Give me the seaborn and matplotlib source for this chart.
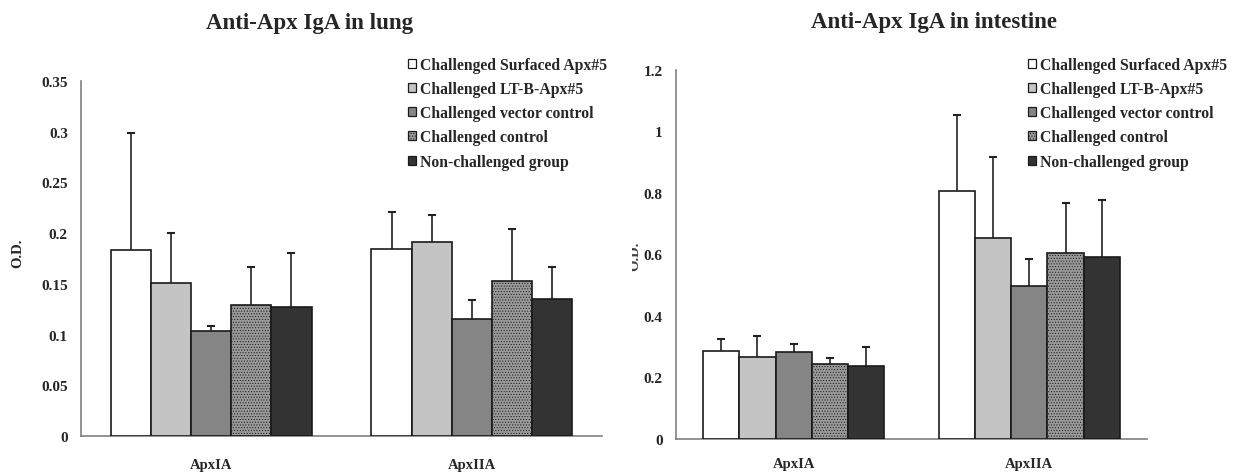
import matplotlib
matplotlib.use("Agg")
import matplotlib.pyplot as plt
from matplotlib.patches import Patch
from matplotlib.transforms import Bbox
import seaborn as sns
import pandas as pd

# ---- data ----
antigens = ["ApxIA", "ApxIIA"]
groups = ["Challenged Surfaced Apx#5", "Challenged LT-B-Apx#5",
          "Challenged vector control", "Challenged control",
          "Non-challenged group"]

lung_mean = {"ApxIA": [0.183, 0.151, 0.104, 0.129, 0.127],
             "ApxIIA": [0.184, 0.191, 0.115, 0.153, 0.135]}
lung_err = {"ApxIA": [0.116, 0.049, 0.004, 0.038, 0.053],
            "ApxIIA": [0.037, 0.027, 0.019, 0.051, 0.032]}

int_mean = {"ApxIA": [0.286, 0.268, 0.282, 0.245, 0.238],
            "ApxIIA": [0.805, 0.654, 0.499, 0.605, 0.591]}
int_err = {"ApxIA": [0.039, 0.066, 0.026, 0.018, 0.060],
           "ApxIIA": [0.248, 0.264, 0.085, 0.162, 0.185]}

lung_ticks = [0, 0.05, 0.1, 0.15, 0.2, 0.25, 0.3, 0.35]
lung_ticklabels = ["0", "0.05", "0.1", "0.15", "0.2", "0.25", "0.3", "0.35"]
int_ticks = [0, 0.2, 0.4, 0.6, 0.8, 1.0, 1.2]
int_ticklabels = ["0", "0.2", "0.4", "0.6", "0.8", "1", "1.2"]

# ---- styling ----
face = ["#ffffff", "#c4c4c4", "#858585", "#9a9a9a", "#333333"]
hatches = [None, None, None, "......", None]

sns.set_theme(style="white")
plt.rcParams["font.family"] = ["Liberation Serif", "DejaVu Serif"]
plt.rcParams["font.weight"] = "bold"
plt.rcParams["hatch.linewidth"] = 0.45
plt.rcParams["hatch.color"] = "#555555"


def long_table(means, errs):
    rows = []
    for a in antigens:
        for g, m, e in zip(groups, means[a], errs[a]):
            rows.append({"antigen": a, "group": g, "od": m, "err": e})
    return pd.DataFrame(rows)


def draw_panel(ax, means, errs, ylim, ticks, ticklabels, xpad):
    df = long_table(means, errs)
    sns.barplot(data=df, x="antigen", y="od", hue="group", order=antigens,
                hue_order=groups, palette=face, width=0.77, gap=0,
                errorbar=None, edgecolor="#1a1a1a", linewidth=1.2,
                legend=False, ax=ax, zorder=3)
    # colours/hatches per group and one-sided (upper) error bars
    bars = ax.patches
    n_a = len(antigens)
    for gi, g in enumerate(groups):
        for ai, a in enumerate(antigens):
            p = bars[gi * n_a + ai]
            p.set_facecolor(face[gi])
            if hatches[gi]:
                p.set_hatch(hatches[gi])
            xc = p.get_x() + p.get_width() / 2
            h = p.get_height()
            e = errs[a][gi]
            line, caps, cols = ax.errorbar(xc, h, yerr=[[0], [e]], fmt="none",
                                           ecolor="#222222", elinewidth=1.2,
                                           capsize=3.2, capthick=1.5, zorder=2)
            caps[0].set_visible(False)

    ax.set_xlim(-0.5, 1.5)
    ax.set_ylim(*ylim)
    ax.set_yticks(ticks)
    ax.set_yticklabels(ticklabels, fontsize=11, fontweight="bold")
    ax.set_xticks([0, 1])
    ax.set_xticklabels(antigens, fontsize=10.5, fontweight="bold")
    ax.set_xticks([-0.5, 0.5, 1.5], minor=True)
    ax.tick_params(axis="x", which="major", length=0, pad=xpad)
    ax.tick_params(axis="x", which="minor", direction="in", length=4,
                   width=1, color="#808080")
    ax.tick_params(axis="y", direction="in", length=4, width=1,
                   color="#808080", pad=9.5)
    ax.set_xlabel("")
    ax.set_ylabel("")
    for s in ["top", "right"]:
        ax.spines[s].set_visible(False)
    for s in ["left", "bottom"]:
        ax.spines[s].set_color("#808080")
        ax.spines[s].set_linewidth(1.2)


W, H = 1239, 477
fig = plt.figure(figsize=(W / 100, H / 100), dpi=100)
ax1 = fig.add_axes([81 / W, 40 / H, 521 / W, 355 / H])
ax2 = fig.add_axes([676 / W, 37 / H, 471 / W, 369 / H])

draw_panel(ax1, lung_mean, lung_err, (0, 0.35), lung_ticks, lung_ticklabels, 16)
draw_panel(ax2, int_mean, int_err, (0, 1.2), int_ticks, int_ticklabels, 13)

fig.text(310 / W, 1 - 29 / H, "Anti-Apx IgA in lung", fontsize=16.5,
         fontweight="bold", ha="center", va="baseline")
fig.text(934 / W, 1 - 28 / H, "Anti-Apx IgA in intestine", fontsize=16.5,
         fontweight="bold", ha="center", va="baseline")

handles = [Patch(facecolor=face[i], edgecolor="#1a1a1a", linewidth=0.9,
                 hatch=hatches[i]) for i in range(len(groups))]
legend_kw = dict(frameon=False, handlelength=0.5, handleheight=0.5,
                 handletextpad=0.25, labelspacing=0.52, borderaxespad=0,
                 borderpad=0, loc="upper left",
                 prop={"family": "Liberation Serif", "weight": "bold",
                       "size": 11.3})
fig.legend(handles, groups, bbox_to_anchor=(408 / W, 1 - 58 / H), **legend_kw)
fig.legend(handles, groups, bbox_to_anchor=(1028 / W, 1 - 58 / H), **legend_kw)

fig.text(18 / W, 1 - 253 / H, "O.D.", rotation=90, fontsize=10.5,
         fontweight="bold", ha="center", va="center")
od2 = fig.text(635 / W, 1 - 256 / H, "O.D.", rotation=90, fontsize=10.5,
               fontweight="bold", ha="center", va="center", color="#444444")
od2.set_clip_box(Bbox.from_extents(632, 0, W, H))
od2.set_clip_on(True)

fig.savefig("out.png", dpi=100)
